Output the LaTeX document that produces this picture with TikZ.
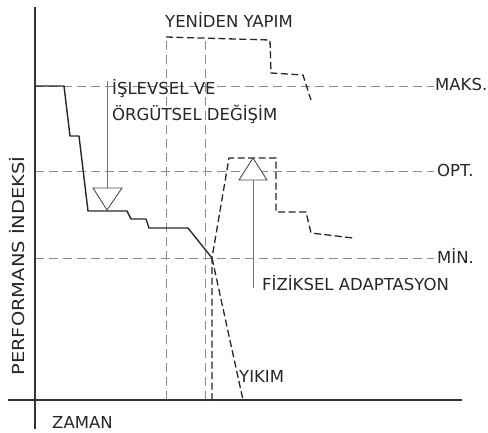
\documentclass[tikz,border=0pt]{standalone}
\usepackage{fontspec}
\setmainfont{DejaVu Sans}
\begin{document}
\begin{tikzpicture}[x=1pt,y=-1pt,
  lbl/.style={inner sep=0pt,anchor=base west,text=black!85,font=\fontsize{16.5}{19}\selectfont},
  guide/.style={draw=black!45,line width=0.9pt,dash pattern=on 9pt off 5pt},
  curvedash/.style={draw=black!85,line width=1.3pt,dash pattern=on 7pt off 3.5pt},
  solidcurve/.style={draw=black!85,line width=1.4pt,line join=round},
  axisline/.style={draw=black!80,line width=1.3pt},
  pointer/.style={draw=black!55,line width=0.8pt},
  tri/.style={draw=black!70,line width=0.9pt,fill=white,line join=miter}]
\useasboundingbox (0,0) rectangle (488,432);
% guide lines
\coordinate (maksL) at (35,86);
\coordinate (maksR) at (434,86);
\coordinate (optL) at (35,171);
\coordinate (optR) at (434,171);
\coordinate (minL) at (35,258);
\coordinate (minR) at (434,258);
\draw[guide] (maksL) -- (maksR);
\draw[guide] (optL) -- (optR);
\draw[guide] (minL) -- (minR);
\draw[guide] (166,400) -- (166,37);
\draw[guide] (205,400) -- (205,37);
% axes
\draw[axisline] (35,7) -- (35,429);
\draw[axisline] (8,400) -- (462,400);
% solid curve
\coordinate (cross) at (212,258);
\draw[solidcurve] (35,86) -- (64,86) -- (70,136) -- (79,136) -- (88,211) -- (127,211) -- (131,219) -- (146,219) -- (149,228) -- (188,228) -- (cross);
% reconstruction
\draw[curvedash] (166,37) -- (270,40) -- (271,73) -- (303,75) -- (311,100);
% adaptation
\draw[curvedash] (212,400) -- (cross) -- (229,158) -- (276,158) -- (276,212) -- (306,212) -- (311,233) -- (353,238);
% demolition
\draw[curvedash] (cross) -- (243,400);
% pointers
\draw[pointer] (107,81) -- (107,188);
\draw[tri] (93,188) -- (122,188) -- (107,210) -- cycle;
\draw[pointer] (253,288) -- (253,180);
\draw[tri] (239,180) -- (267,180) -- (253,158) -- cycle;
% labels
\node[lbl] (yy) at (165,27) {YENİDEN YAPIM};
\node[lbl] (isl) at (112,94) {İŞLEVSEL VE};
\node[lbl] (org) at (112,120) {ÖRGÜTSEL DEĞİŞİM};
\node[lbl] (maks) at (435,90) {MAKS.};
\node[lbl] (opt) at (437,176) {OPT.};
\node[lbl] (min) at (437,263) {MİN.};
\node[lbl] (fiz) at (262,290) {FİZİKSEL ADAPTASYON};
\node[lbl] (yik) at (239,382) {YIKIM};
\node[lbl] (zaman) at (52,428) {ZAMAN};
\node[inner sep=0pt,rotate=90,text=black!85,font=\fontsize{16.5}{19}\selectfont] (perf) at (17,266) {\scalebox{1.18}[1]{PERFORMANS İNDEKSİ}};
\end{tikzpicture}
\end{document}
